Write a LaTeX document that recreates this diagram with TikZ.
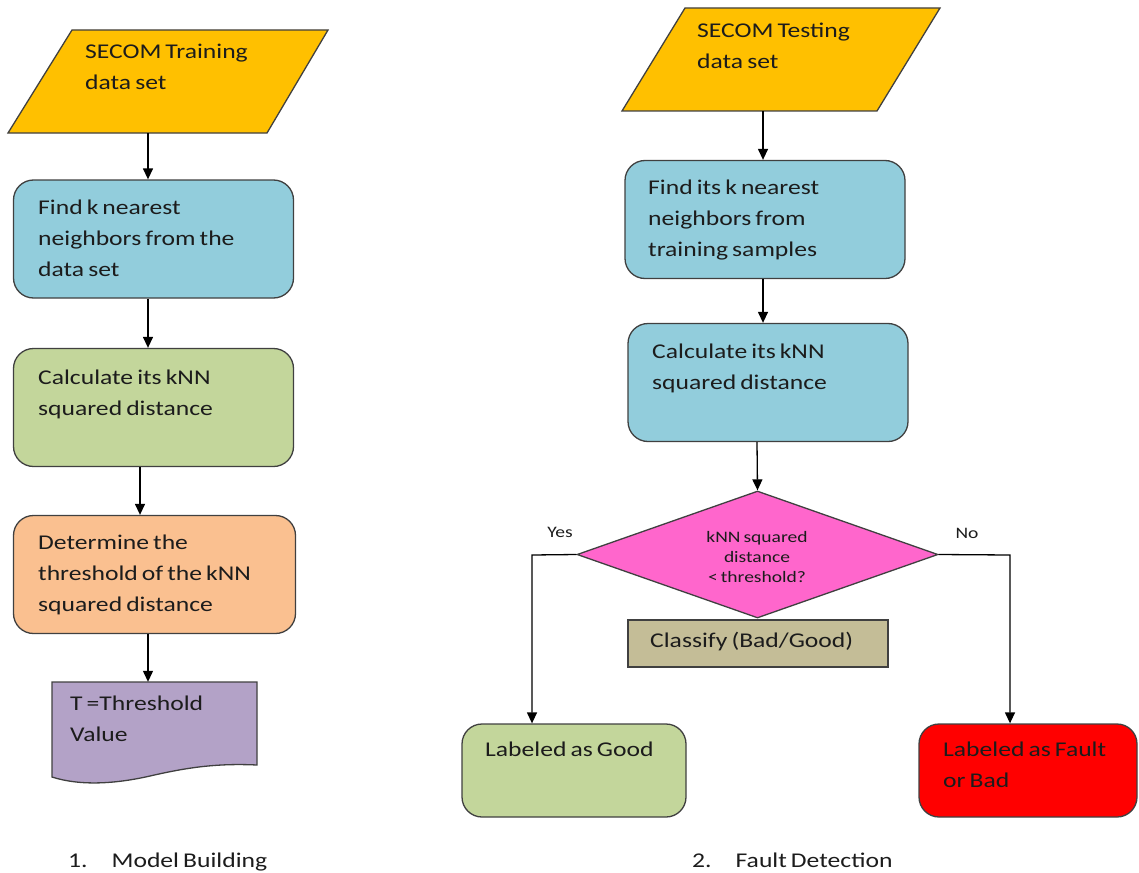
\documentclass[tikz,border=0pt]{standalone}
\usepackage{fontspec}
\setmainfont{Carlito}[FakeStretch=1.22,WordSpace=0.7]
\usetikzlibrary{arrows.meta,shapes.geometric}

\definecolor{inyellow}{HTML}{FFC000}
\definecolor{stepblue}{HTML}{92CDDC}
\definecolor{stepgreen}{HTML}{C3D69B}
\definecolor{steporange}{HTML}{FAC090}
\definecolor{docpurple}{HTML}{B3A2C7}
\definecolor{decpink}{HTML}{FF66CC}
\definecolor{classtan}{HTML}{C4BD97}
\definecolor{badred}{HTML}{FF0000}
\definecolor{edgegray}{HTML}{404040}
\definecolor{inktext}{HTML}{1C1C1C}

\tikzset{
  outline/.style={draw=edgegray, line width=1.3pt},
  procbox/.style={outline, rectangle, rounded corners=20pt, inner sep=0pt},
  areabox/.style={rectangle, inner sep=0pt, draw=none},
  % multi-line text: the base anchor sits on the last line
  txt/.style={anchor=base west, inner sep=0pt, align=left, text=inktext,
    font=\fontsize{21}{31}\selectfont},
  smalltxt/.style={anchor=base, inner sep=0pt, align=center, text=inktext,
    font=\fontsize{16}{20}\selectfont},
  arr/.style={line width=1.3pt, -{Triangle[length=11pt,width=10pt]}}
}

\begin{document}
\begin{tikzpicture}[x=1pt,y=-1pt]
\useasboundingbox (0,0) rectangle (1139,872);

% ---------- 1. Model building ----------
\draw[outline, fill=inyellow] (72,30) -- (328,30) -- (267,133) -- (8,133) -- cycle;
\node[areabox, minimum width=320pt, minimum height=103pt] (train) at (168,81.5) {};
\node[txt] (traint) at (85,89.5) {SECOM Training\\data set};

\node[procbox, fill=stepblue, minimum width=280pt, minimum height=118pt] (find) at (153.5,239) {};
\node[txt] (findt) at (38,276.5) {Find k nearest\\neighbors from the\\data set};

\node[procbox, fill=stepgreen, minimum width=280pt, minimum height=118pt] (calc) at (153.5,407.5) {};
\node[txt] (calct) at (38,415.5) {Calculate its kNN\\squared distance};

\node[procbox, fill=steporange, minimum width=282pt, minimum height=118pt] (thr) at (154.5,574.5) {};
\node[txt] (thrt) at (38,611.5) {Determine the\\threshold of the kNN\\squared distance};

% document shape with a wavy lower edge
\draw[outline, fill=docpurple] (52,682) -- (257,682) -- (257,765)
  .. controls (215,763) and (185,768) .. (150,776)
  .. controls (115,784) and (80,786) .. (52,777) -- cycle;
\node[areabox, minimum width=205pt, minimum height=96pt] (tval) at (154.5,730) {};
\node[txt] (tvalt) at (70,741.5) {T =Threshold\\Value};

\node[txt] (cap1) at (68,867) {1.\hspace{24pt}Model Building};

\draw[arr] (train.south -| 148,0) -- (find.north -| 148,0);
\draw[arr] (find.south -| 148,0) -- (calc.north -| 148,0);
\draw[arr] (calc.south -| 140,0) -- (thr.north -| 140,0);
\draw[arr] (thr.south -| 148,0) -- (tval.north -| 148,0);

% ---------- 2. Fault detection ----------
\draw[outline, fill=inyellow] (685,8) -- (940,8) -- (877,111) -- (622,111) -- cycle;
\node[areabox, minimum width=318pt, minimum height=103pt] (test) at (781,59.5) {};
\node[txt] (testt) at (697,68.5) {SECOM Testing\\data set};

\node[procbox, fill=stepblue, minimum width=280pt, minimum height=118pt] (near) at (765,219.5) {};
\node[txt] (neart) at (648,256.5) {Find its k nearest\\neighbors from\\training samples};

\node[procbox, fill=stepblue, minimum width=280pt, minimum height=118pt] (dist) at (768,382.5) {};
\node[txt] (distt) at (652,389.5) {Calculate its kNN\\squared distance};

\node[outline, diamond, aspect=2.85, fill=decpink, minimum width=361pt,
  minimum height=127pt, inner sep=0pt] (dec) at (757.5,554.5) {};
\node[smalltxt] (dect) at (757,582.5) {kNN squared\\distance\\< threshold?};

\node[outline, rectangle, fill=classtan, minimum width=260pt, minimum height=47pt,
  inner sep=0pt] (cls) at (758,643.5) {};
\node[txt] (clst) at (650,647) {Classify (Bad/Good)};

\node[procbox, fill=stepgreen, minimum width=224pt, minimum height=93pt] (good) at (574,770.5) {};
\node[txt] (goodt) at (485,756.5) {Labeled as Good};

\node[procbox, fill=badred, minimum width=218pt, minimum height=93pt] (bad) at (1028,770.5) {};
\node[txt] (badt) at (943,787.5) {Labeled as Fault\\or Bad};

\coordinate (yesc) at (532,555);
\coordinate (noc) at (1010,555);
\node[smalltxt] (yes) at (560,537.5) {Yes};
\node[smalltxt] (no) at (967,538.5) {No};

\node[txt] (cap2) at (692,867) {2.\hspace{24pt}Fault Detection};

\draw[arr] (test.south -| 763,0) -- (near.north -| 763,0);
\draw[arr] (near.south -| 763,0) -- (dist.north -| 763,0);
\draw[arr] (dist.south -| 757,0) -- (dec.north);
\draw[arr] (dec.west) -- (yesc) -- (good.north -| yesc);
\draw[arr] (dec.east) -- (noc) -- (bad.north -| noc);
\end{tikzpicture}
\end{document}
